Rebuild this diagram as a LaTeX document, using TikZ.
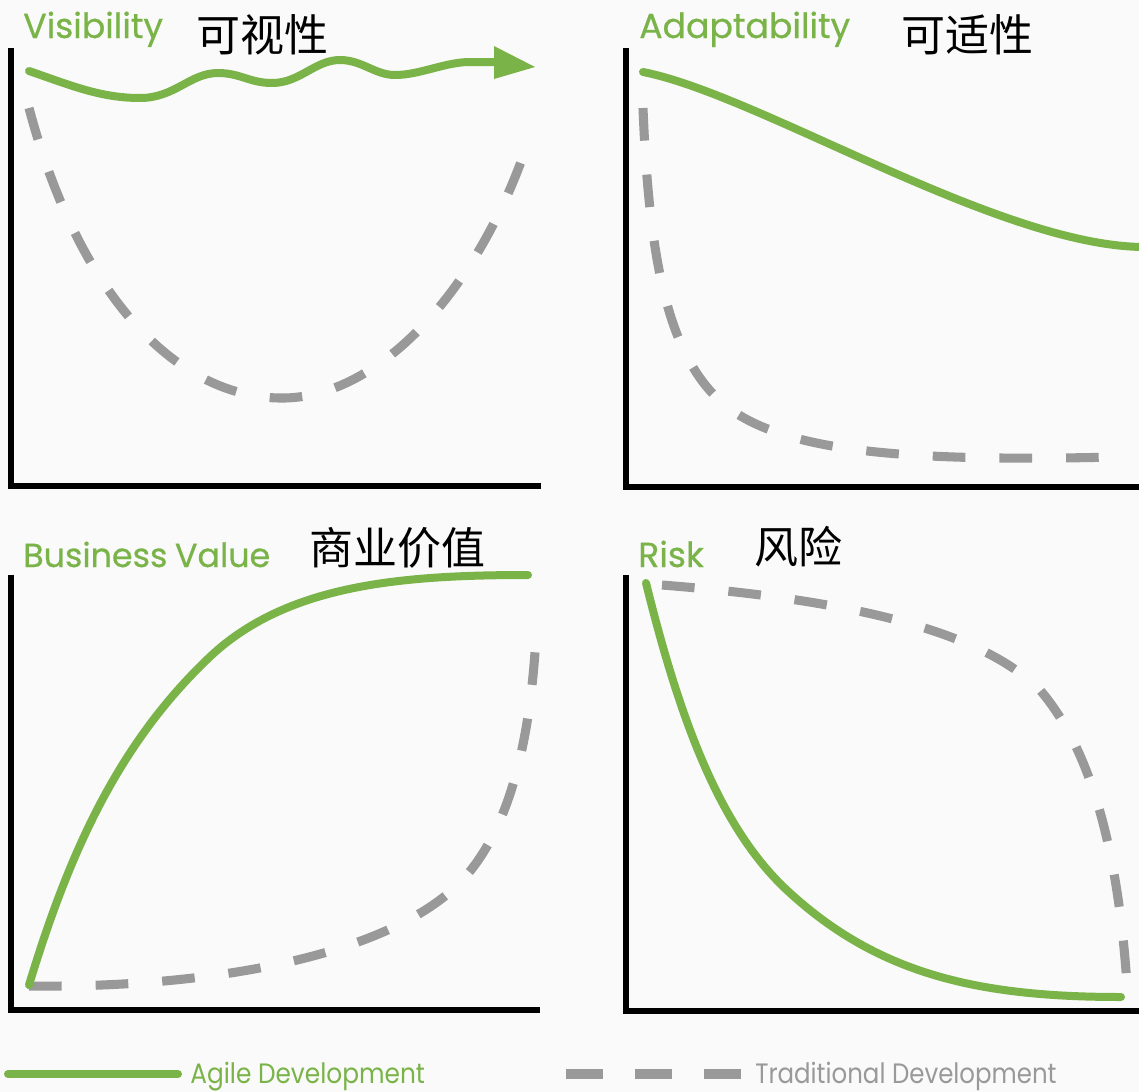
\documentclass[tikz,border=0pt]{standalone}
\usepackage{fontspec}
\setmainfont{Poppins}
\newfontfamily\ttlfont{Poppins}[FakeBold=0.6]
\newfontfamily\cjk{Noto Sans CJK SC}
\usetikzlibrary{arrows.meta}
\definecolor{agile}{RGB}{122,180,72}
\definecolor{trad}{RGB}{153,153,153}
\definecolor{bg}{RGB}{250,250,250}
\begin{document}
\begin{tikzpicture}[x=0.75pt,y=-0.75pt,
  axis/.style={draw=black, line width=4.1pt, line cap=butt, line join=miter},
  agileline/.style={draw=agile, line width=6pt, line cap=round, line join=round},
  tradline/.style={draw=trad, line width=6.8pt, dash pattern=on 24.5pt off 25.5pt},
  legdash/.style={draw=trad, line width=7pt},
  ttl/.style={text=agile, font=\ttlfont\fontsize{26}{30}\selectfont, anchor=base west, inner sep=0pt},
  cn/.style={font=\cjk\fontsize{33}{36}\selectfont, anchor=center, inner sep=0pt},
  leg/.style={anchor=base west, inner sep=0pt},
]
\fill[bg] (0,0) rectangle (1139,1092);
\useasboundingbox (0,0) rectangle (1139,1092);

% axes
\draw[axis] (11,48) -- (11,486) -- (541,486);
\draw[axis] (626,48) -- (626,487) -- (1139,487);
\draw[axis] (11,575) -- (11,1010) -- (540,1010);
\draw[axis] (626,575) -- (626,1011) -- (1139,1011);

% titles
\node[ttl] (t1) at (23,38) {Visibility};
\node[cn] (c1) at (262,35) {可视性};
\node[ttl] (t2) at (639,38) {Adaptability};
\node[cn] (c2) at (967,35) {可适性};
\node[ttl, font=\ttlfont\fontsize{25}{30}\selectfont] (t3) at (23,567) {Business\hspace{-1pt} Value};
\node[cn] (c3) at (397,548) {商业价值};
\node[ttl] (t4) at (638,567) {Risk};
\node[cn] (c4) at (798,547) {风险};

% Visibility
\draw[tradline] (29,108) .. controls (80,300) and (180,400) .. (285,398)
  .. controls (380,396) and (480,290) .. (530,136);
\draw[agileline] (29,71) .. controls (70,85) and (100,98) .. (140,98)
  .. controls (175,98) and (190,73) .. (218,73)
  .. controls (240,73) and (250,83) .. (272,83)
  .. controls (300,83) and (315,60) .. (340,60)
  .. controls (362,60) and (375,75) .. (395,75)
  .. controls (420,75) and (445,62) .. (470,62) -- (496,62);
\fill[agile] (494,46) -- (535,67) -- (494,79) -- cycle;

% Adaptability
\draw[tradline] (643,108) .. controls (649,260) and (668,350) .. (717,398)
  .. controls (772,452) and (900,462) .. (1117,457);
\draw[agileline] (643,72) .. controls (760,95) and (1000,247) .. (1145,247);

% Business value
\draw[tradline] (29,986) .. controls (200,988) and (370,960) .. (450,892)
  .. controls (510,840) and (530,740) .. (536,637);
\draw[agileline] (29,985) .. controls (70,850) and (120,740) .. (214,653)
  .. controls (290,585) and (400,575) .. (528,575);

% Risk
\draw[tradline] (662,585) .. controls (850,600) and (980,630) .. (1040,690)
  .. controls (1100,760) and (1120,880) .. (1127,985);
\draw[agileline] (646,583) .. controls (680,720) and (720,830) .. (790,893)
  .. controls (880,975) and (980,997) .. (1121,997);

% legend
\coordinate (la) at (8,1074);
\coordinate (lb) at (178,1074);
\draw[agileline] (la) -- (lb);
\node[leg, text=agile] (lg1) at (190,1083) {\resizebox{176pt}{16pt}{Agile Development}};
\coordinate (d1a) at (566,1074); \coordinate (d1b) at (603,1074);
\coordinate (d2a) at (635,1074); \coordinate (d2b) at (672,1074);
\coordinate (d3a) at (704,1074); \coordinate (d3b) at (741,1074);
\draw[legdash] (d1a) -- (d1b);
\draw[legdash] (d2a) -- (d2b);
\draw[legdash] (d3a) -- (d3b);
\node[leg, text=trad] (lg2) at (755,1083) {\resizebox{226pt}{16pt}{Traditional Development}};
\end{tikzpicture}
\end{document}
